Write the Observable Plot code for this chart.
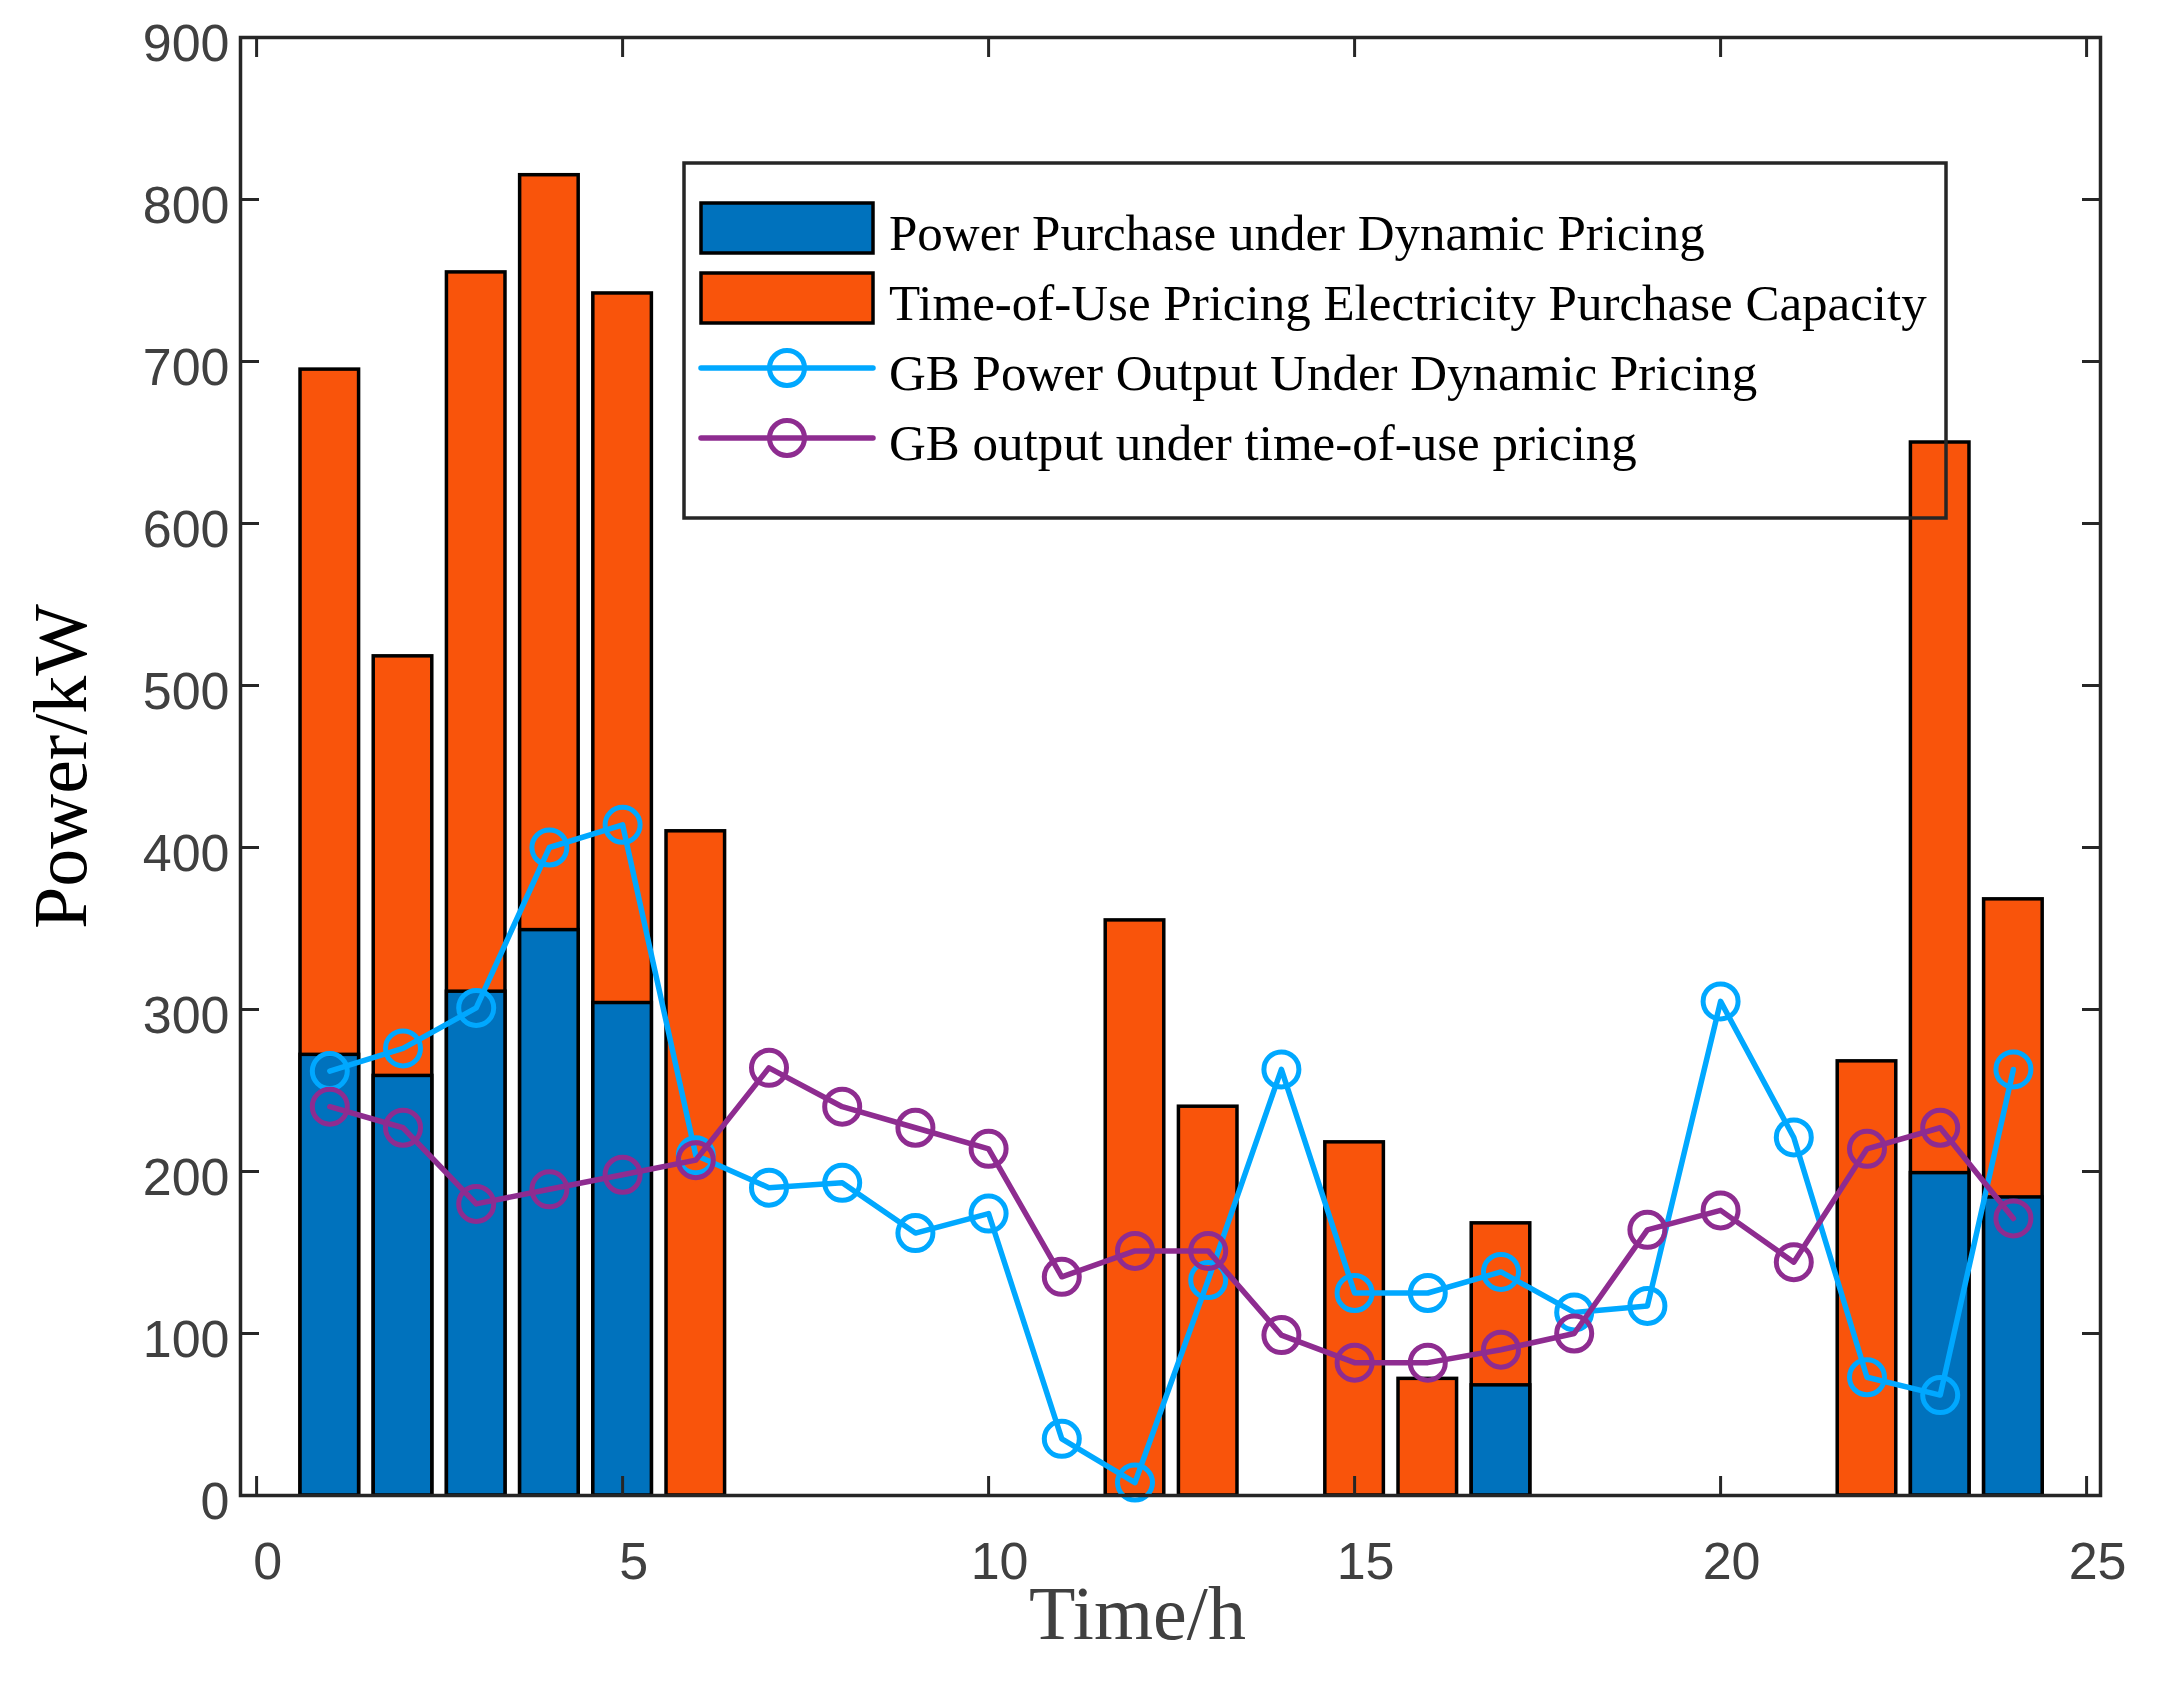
<!DOCTYPE html>
<html>
<head>
<meta charset="utf-8">
<script src="https://cdn.jsdelivr.net/npm/d3@7"></script>
<script src="https://cdn.jsdelivr.net/npm/@observablehq/plot@0.6"></script>
<style>
  body { margin: 0; background: #fff; }
  #chart { position: relative; width: 2167px; height: 1682px; }
  #chart svg { position: absolute; left: 0; top: 0; }
</style>
</head>
<body>
<div id="chart"></div>
<script>
// hour of the day
const hours = [1, 2, 3, 4, 5, 6, 7, 8, 9, 10, 11, 12, 13, 14, 15, 16, 17, 18, 19, 20, 21, 22, 23, 24]
// purchased power, kW (blue = dynamic pricing, orange = time-of-use top)
const dynamicBuy = [272, 259, 311, 349, 304, 0, 0, 0, 0, 0, 0, 0, 0, 0, 0, 0, 68, 0, 0, 0, 0, 0, 199, 184]
const touBuy = [695, 518, 755, 815, 742, 410, 0, 0, 0, 0, 0, 355, 240, 0, 218, 72, 168, 0, 0, 0, 0, 268, 650, 368]
// gas boiler output, kW
const gbDynamic = [262, 276, 301, 400, 414, 210, 190, 193, 162, 174, 35, 8, 133, 263, 125, 125, 138, 113, 117, 305, 221, 73, 62, 263]
const gbTou = [240, 227, 180, 189, 198, 207, 264, 240, 227, 214, 135, 151, 151, 99, 82, 82, 90, 100, 164, 176, 144, 214, 227, 171]

const xTicks = [0, 5, 10, 15, 20, 25]
const yTicks = [0, 100, 200, 300, 400, 500, 600, 700, 800, 900]

const legendNames = [
  "Power Purchase under Dynamic Pricing",
  "Time-of-Use Pricing Electricity Purchase Capacity",
  "GB Power Output Under Dynamic Pricing",
  "GB output under time-of-use pricing"
]

const BLUE = "#0072BD", ORANGE = "#F9540B", CYAN = "#00A8FF", PURPLE = "#8E2C90"
const AXIS = "#262626", LABEL = "#404040"
const SERIF = "'Liberation Serif', 'Times New Roman', serif"

const rows = hours.map((h, i) => ({h, dyn: dynamicBuy[i], tou: touBuy[i], gbDyn: gbDynamic[i], gbTou: gbTou[i]}))

let chart = Plot.plot({
  width: 2167,
  height: 1682,
  marginLeft: 240,
  marginRight: 67,
  marginTop: 37,
  marginBottom: 187,
  x: {domain: [-0.22, 25.19]},
  y: {domain: [0, 900]},
  style: {fontFamily: "'Liberation Sans', Arial, sans-serif", fontSize: "52px", color: LABEL, background: "white"},
  marks: [
    // bars: orange drawn full height, blue on top of it
    Plot.rect(rows.filter(d => d.tou > 0), {
      x1: d => d.h - 0.4, x2: d => d.h + 0.4, y1: 0, y2: "tou",
      fill: ORANGE, stroke: "black", strokeWidth: 3.5
    }),
    Plot.rect(rows.filter(d => d.dyn > 0), {
      x1: d => d.h - 0.4, x2: d => d.h + 0.4, y1: 0, y2: "dyn",
      fill: BLUE, stroke: "black", strokeWidth: 3.5
    }),
    Plot.line(rows, {x: "h", y: "gbDyn", stroke: CYAN, strokeWidth: 5.5}),
    Plot.dot(rows, {x: "h", y: "gbDyn", r: 17.5, stroke: CYAN, strokeWidth: 5, fill: "none"}),
    Plot.line(rows, {x: "h", y: "gbTou", stroke: PURPLE, strokeWidth: 5.5}),
    Plot.dot(rows, {x: "h", y: "gbTou", r: 17.5, stroke: PURPLE, strokeWidth: 5, fill: "none"}),

    // tick labels
    Plot.axisX(xTicks, {anchor: "bottom", tickSize: 0, tickPadding: 47, dx: 11, fill: LABEL, label: null}),
    Plot.axisY(yTicks, {anchor: "left", tickSize: 0, tickPadding: 11, dy: 7, fill: LABEL, label: null}),
    // inward ticks on all four sides
    Plot.axisX(xTicks, {anchor: "bottom", tickSize: -19, fill: "none", stroke: AXIS, strokeWidth: 3, label: null}),
    Plot.axisX(xTicks, {anchor: "top", tickSize: -19, fill: "none", stroke: AXIS, strokeWidth: 3, label: null}),
    Plot.axisY(yTicks, {anchor: "left", tickSize: -19, fill: "none", stroke: AXIS, strokeWidth: 3, label: null}),
    Plot.axisY(yTicks, {anchor: "right", tickSize: -19, fill: "none", stroke: AXIS, strokeWidth: 3, label: null}),

    Plot.text(["Time/h"], {frameAnchor: "bottom", textAnchor: "middle", dx: -33, dy: 143, fontFamily: SERIF, fontSize: 76, fill: LABEL}),
    Plot.text(["Power/kW"], {frameAnchor: "left", textAnchor: "middle", rotate: -90, dx: -179, fontFamily: SERIF, fontSize: 76, fill: "black"}),

    Plot.frame({stroke: AXIS, strokeWidth: 3.5})
  ]
})

d3.select('#chart').append(() => chart)

// legend box sits inside the axes, no background
const leg = d3.select('#chart').append('svg')
  .attr('width', 2167).attr('height', 1682)
  .style('pointer-events', 'none')

leg.append('rect')
  .attr('x', 684).attr('y', 163).attr('width', 1262).attr('height', 355)
  .attr('fill', 'none').attr('stroke', AXIS).attr('stroke-width', 3.5)

const legColors = [BLUE, ORANGE, CYAN, PURPLE]
legendNames.forEach((name, i) => {
  const cy = 228 + i * 70
  if (i < 2) {
    leg.append('rect')
      .attr('x', 701).attr('y', cy - 25).attr('width', 172).attr('height', 50)
      .attr('fill', legColors[i]).attr('stroke', 'black').attr('stroke-width', 3.5)
  } else {
    leg.append('line')
      .attr('x1', 701).attr('x2', 873).attr('y1', cy).attr('y2', cy)
      .attr('stroke', legColors[i]).attr('stroke-width', 5.5).attr('stroke-linecap', 'round')
    leg.append('circle')
      .attr('cx', 787).attr('cy', cy).attr('r', 17.5)
      .attr('fill', 'none').attr('stroke', legColors[i]).attr('stroke-width', 5)
  }
  leg.append('text')
    .attr('x', 889).attr('y', cy + 22)
    .attr('font-family', SERIF)
    .attr('font-size', 51).attr('fill', 'black')
    .text(name)
})
</script>
</body>
</html>
